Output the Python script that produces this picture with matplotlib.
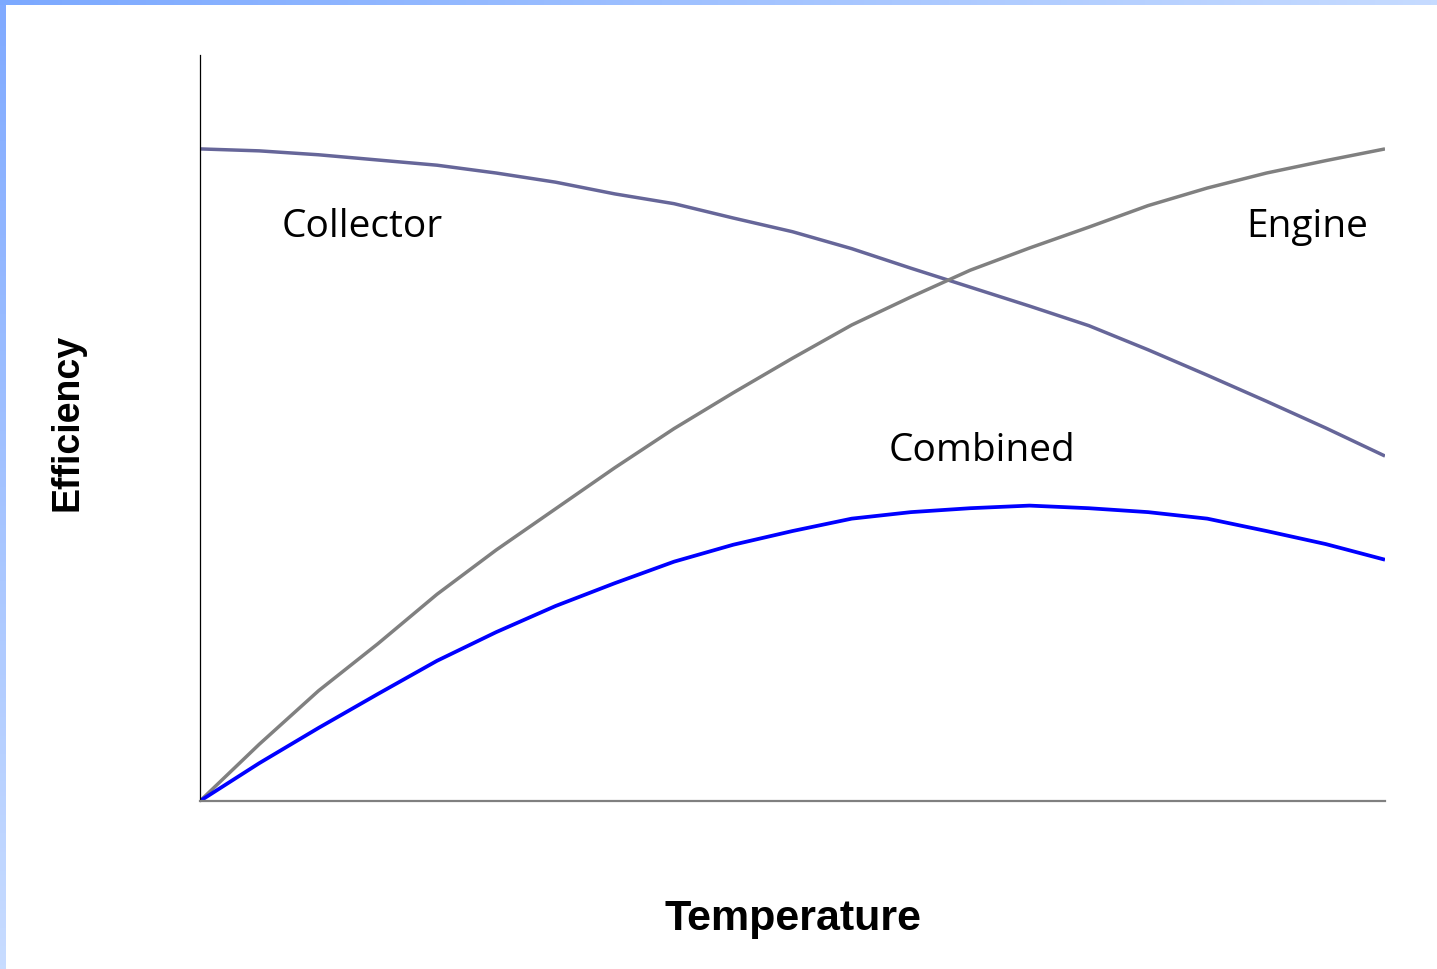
import numpy as np
import matplotlib
matplotlib.use("Agg")
import matplotlib.pyplot as plt
from matplotlib.colors import LinearSegmentedColormap

# ---- data ----
temperature = list(range(21))
collector = [100, 99.7, 99.1, 98.3, 97.5, 96.3, 94.9, 93.1, 91.6, 89.4, 87.3,
             84.7, 81.7, 78.8, 75.9, 72.9, 69.2, 65.3, 61.3, 57.2, 52.9]
engine = [0, 8.7, 16.9, 24.1, 31.7, 38.5, 44.8, 51.1, 57.1, 62.6, 67.9,
          73.0, 77.3, 81.4, 84.8, 88.0, 91.3, 94.0, 96.3, 98.2, 100]
combined = [0, 5.8, 11.2, 16.4, 21.5, 25.9, 29.9, 33.4, 36.7, 39.3, 41.4,
            43.3, 44.3, 44.9, 45.3, 44.9, 44.3, 43.3, 41.4, 39.4, 37.0]

W, H = 1437, 970
fig = plt.figure(figsize=(W / 100, H / 100), dpi=100)
fig.patch.set_facecolor("white")

# slide decorations: top and left gradient bands
grad = np.linspace(0, 1, 256)
top_cmap = LinearSegmentedColormap.from_list("top", ["#7ca9ff", "#c6dbff"])
left_cmap = LinearSegmentedColormap.from_list("left", ["#80aaff", "#c8dcff"])
ax_top = fig.add_axes([0, 1 - 6 / H, 1, 6 / H])
ax_top.imshow(grad[None, :], aspect="auto", cmap=top_cmap)
ax_top.axis("off")
ax_left = fig.add_axes([0, 0, 6 / W, 1 - 6 / H])
ax_left.imshow(grad[:, None], aspect="auto", cmap=left_cmap)
ax_left.axis("off")

# main axes
ax = fig.add_axes([200 / W, (H - 802) / H, 1185 / W, 746 / H])
ax.plot(temperature, collector, color="#666699", lw=2.5, solid_capstyle="butt")
ax.plot(temperature, engine, color="#808080", lw=2.5, solid_capstyle="butt")
ax.plot(temperature, combined, color="#0000ff", lw=2.7, solid_capstyle="butt")

ax.set_xlim(0, 20)
ax.set_ylim(0, 114.4)
ax.set_xticks([])
ax.set_yticks([])
for s in ("top", "right"):
    ax.spines[s].set_visible(False)
ax.spines["left"].set_color("#000000")
ax.spines["left"].set_linewidth(0.9)
ax.spines["bottom"].set_color("#808080")
ax.spines["bottom"].set_linewidth(1.6)
ax.patch.set_alpha(0)

lab_font = dict(family=["Open Sans", "DejaVu Sans"], fontsize=28, color="black")
ax.text(1.38, 88.2, "Collector", ha="left", va="center", **lab_font)
ax.text(19.72, 88.2, "Engine", ha="right", va="center", **lab_font)
ax.text(11.62, 53.8, "Combined", ha="left", va="center", **lab_font)

axis_font = dict(family=["Liberation Sans", "DejaVu Sans"],
                 fontweight="bold", color="black")
fig.text(793 / W, 1 - 919 / H, "Temperature", ha="center", va="center",
         fontsize=31, **axis_font)
fig.text(67 / W, 1 - 422 / H, "Efficiency", ha="center", va="center",
         rotation=90, fontsize=27, **axis_font)

fig.savefig("out.png", dpi=100, facecolor="white")
